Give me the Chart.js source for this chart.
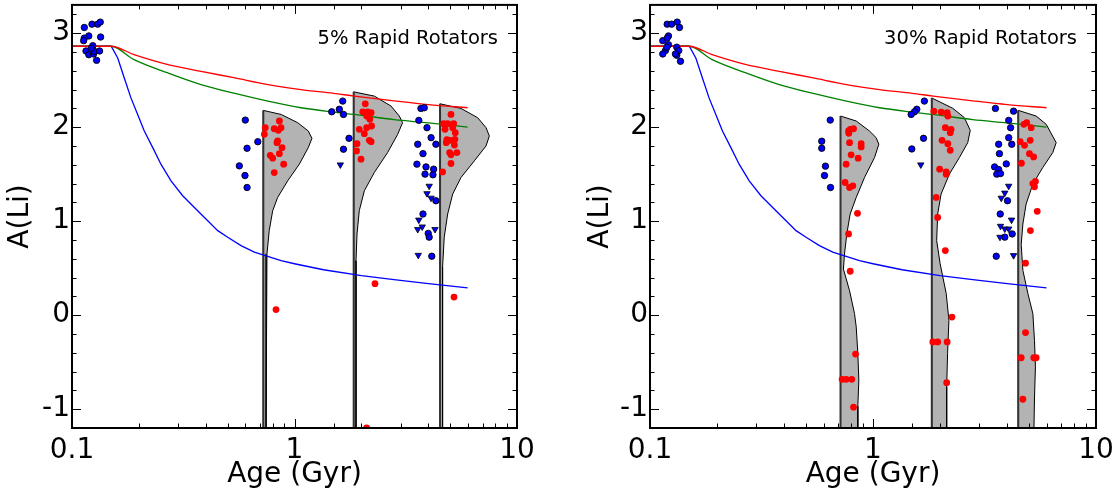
<!DOCTYPE html>
<html>
<head>
<meta charset="utf-8">
<script src="https://cdn.jsdelivr.net/npm/chart.js@4.4.0/dist/chart.umd.min.js"></script>
<style>
  html, body { margin: 0; padding: 0; background: #fff; }
  #wrap { position: relative; width: 1120px; height: 492px; }
  .panel { position: absolute; top: 0; width: 560px; height: 492px; }
</style>
</head>
<body>
<div id="wrap">
  <div class="panel" style="left:0"><canvas id="left"></canvas></div>
  <div class="panel" style="left:560px"><canvas id="right"></canvas></div>
</div>
<script>
// ---- model tracks (same in both panels) ----
const redAge = [0.1, 0.15, 0.19, 0.27, 0.38, 0.54, 0.76, 1.07, 1.5, 1.86, 2.8, 4.0, 6.0];
const redLi = [2.86, 2.86, 2.771, 2.665, 2.594, 2.523, 2.453, 2.40, 2.36, 2.33, 2.28, 2.24, 2.206];
const greenAge = [0.1, 0.15, 0.19, 0.27, 0.38, 0.54, 0.76, 1.07, 1.5, 1.86, 2.8, 4.0, 6.0];
const greenLi = [2.86, 2.86, 2.718, 2.576, 2.453, 2.358, 2.276, 2.206, 2.16, 2.135, 2.08, 2.045, 2.0];
const blueAge = [0.1, 0.15, 0.1605, 0.1718, 0.184, 0.1973, 0.2113, 0.2306, 0.251, 0.2786, 0.3144, 0.367, 0.4074, 0.4518, 0.501, 0.575, 0.66, 0.87, 1.0, 1.35, 2.0, 2.8, 4.0, 6.0];
const blueLi = [2.86, 2.86, 2.735, 2.523, 2.311, 2.135, 1.959, 1.782, 1.606, 1.429, 1.27, 1.111, 1.005, 0.899, 0.828, 0.74, 0.67, 0.58, 0.547, 0.483, 0.42, 0.377, 0.335, 0.29];

// ---- left panel: 5% rapid rotators ----
const leftObsAge = [0.1136, 0.123, 0.1305, 0.134, 0.119, 0.1136, 0.1128, 0.1345, 0.124, 0.1156, 0.119, 0.125, 0.126, 0.133, 0.129, 0.122,
  0.601, 0.612, 0.684, 0.565, 0.599, 0.612,
  1.647, 1.59, 1.47, 1.66, 1.758, 1.66,
  3.70, 3.83, 3.62, 3.94, 4.11, 4.32, 3.58, 3.78, 3.55, 3.90, 4.22, 3.86, 4.19, 4.32, 3.78, 3.99, 4.03, 4.14];
const leftObsLi = [3.06, 3.095, 3.095, 3.117, 2.97, 2.947, 2.92, 2.958, 2.866, 2.81, 2.77, 2.778, 2.806, 2.81, 2.71, 2.84,
  2.075, 1.775, 1.845, 1.588, 1.485, 1.358,
  2.277, 2.19, 2.163, 2.135, 1.881, 1.765,
  2.199, 2.206, 2.072, 1.994, 1.888, 1.818, 1.818, 1.718, 1.606, 1.577, 1.553, 1.5, 1.493, 1.217, 1.076, 0.87, 0.83, 0.627];
const leftLimAge = [1.607, 4.03, 3.94, 4.11, 3.62, 3.75, 3.58, 4.28, 3.60];
const leftLimLi = [1.60, 1.373, 1.294, 1.246, 1.013, 0.94, 0.913, 0.913, 0.638];
const leftModelAge = [0.739, 0.732, 0.811, 0.855, 0.846, 0.870, 0.84, 0.879, 0.855, 0.778, 0.798, 0.894, 0.811, 0.834, 0.826,
  2.08, 2.026, 2.13, 2.21, 2.11, 2.18, 2.22, 2.11, 1.955, 2.06, 2.17, 2.21, 1.91, 1.90, 1.99, 2.30, 2.11,
  5.05, 4.68, 4.88, 5.19, 5.14, 4.75, 5.28, 4.84, 5.01, 5.26, 4.81, 5.23, 4.98, 5.37, 5.05, 5.05, 4.63, 5.21];
const leftModelLi = [1.994, 1.924, 1.983, 2.065, 1.966, 1.994, 1.853, 1.782, 1.718, 1.70, 1.67, 1.606, 1.517, 1.835, 0.06,
  2.248, 2.163, 2.163, 2.153, 2.118, 2.083, 2.012, 1.994, 1.977, 1.93, 1.86, 1.845, 1.824, 1.747, 1.659, 0.335, -1.2,
  2.135, 2.036, 2.036, 2.036, 1.994, 1.977, 1.941, 1.867, 1.86, 1.87, 1.835, 1.81, 1.729, 1.729, 1.705, 1.613, 1.524, 0.193];
// violins: vertical base age, top A(Li), then right-hand outline from top to bottom
const leftViolinBase = [0.724, 1.845, 4.51];
const leftViolinTop = [2.178, 2.375, 2.248];
const leftV1Age = [0.87, 1.034, 1.153, 1.198, 1.153, 1.051, 0.932, 0.84, 0.798, 0.77, 0.752, 0.745, 0.745];
const leftV1Li = [2.135, 2.047, 1.959, 1.881, 1.782, 1.606, 1.429, 1.252, 1.111, 0.90, 0.652, 0.37, -1.2];
const leftV2Age = [2.284, 2.716, 2.958, 3.06, 2.91, 2.62, 2.284, 2.06, 1.955, 1.91, 1.89, 1.89];
const leftV2Li = [2.33, 2.224, 2.118, 2.047, 1.924, 1.729, 1.517, 1.323, 1.111, 0.864, 0.58, -1.2];
const leftV3Age = [5.6, 6.66, 7.26, 7.51, 7.26, 6.43, 5.6, 5.14, 4.88, 4.71, 4.63, 4.63];
const leftV3Li = [2.199, 2.10, 1.994, 1.906, 1.80, 1.641, 1.464, 1.288, 1.076, 0.83, 0.51, -1.2];

// ---- right panel: 30% rapid rotators ----
const rightObsAge = [0.1194, 0.125, 0.1324, 0.1356, 0.1141, 0.121, 0.1194, 0.121, 0.1173, 0.1141, 0.1318, 0.1346, 0.1318, 0.130, 0.137, 0.119,
  0.643, 0.589, 0.589, 0.612, 0.606, 0.645,
  1.70, 1.572, 1.535, 1.483, 1.685, 1.493,
  3.54, 4.27, 4.06, 4.14, 3.66, 4.06, 4.19, 3.69, 3.96, 3.51, 3.66, 3.59, 3.73, 4.01, 3.72, 4.21, 3.90, 3.57];
const rightObsLi = [3.095, 3.095, 3.117, 3.06, 2.92, 2.97, 2.947, 2.877, 2.814, 2.778, 2.85, 2.814, 2.764, 2.778, 2.70, 2.85,
  2.075, 1.85, 1.775, 1.585, 1.485, 1.358,
  2.277, 2.19, 2.163, 2.135, 1.881, 1.768,
  2.199, 2.17, 2.072, 1.994, 1.818, 1.888, 1.818, 1.718, 1.609, 1.577, 1.549, 1.5, 1.506, 1.217, 1.076, 0.864, 0.83, 0.627];
const rightLimAge = [1.638, 4.06, 3.90, 3.76, 4.18, 3.73, 3.90, 4.06, 3.71, 4.27];
const rightLimLi = [1.60, 1.373, 1.30, 1.246, 1.013, 0.947, 0.918, 0.918, 0.83, 0.635];
const rightModelAge = [0.777, 0.79, 0.818, 0.779, 0.785, 0.885, 0.885, 0.798, 0.858, 0.758, 0.750, 0.785, 0.812, 0.852, 0.777, 0.79, 0.835, 0.727, 0.758, 0.803, 0.818,
  1.874, 2.022, 2.15, 2.165, 2.11, 2.24, 2.22, 2.04, 2.165, 2.22, 1.99, 2.13, 2.13, 1.92, 1.95, 2.11, 2.26, 1.855, 1.95, 2.15, 2.14,
  4.75, 4.89, 5.12, 4.57, 4.78, 5.07, 5.03, 5.25, 4.63, 5.21, 5.30, 5.35, 5.45, 5.08, 4.83, 4.83, 4.62, 5.26, 5.39, 4.70];
const rightModelLi = [1.959, 1.977, 1.983, 1.934, 1.835, 1.824, 1.789, 1.705, 1.67, 1.606, 1.411, 1.358, 1.376, 1.083, 0.864, 0.467, -0.414, -0.682, -0.682, -0.682, -0.979,
  2.17, 2.16, 2.153, 2.118, 1.994, 1.977, 1.941, 1.86, 1.824, 1.754, 1.553, 1.524, 1.5, 1.252, 1.04, 0.687, -0.02, -0.284, -0.284, -0.284, -0.718,
  2.03, 2.047, 1.994, 1.845, 1.807, 1.86, 1.718, 1.683, 1.616, 1.40, 1.365, 1.422, 1.104, 0.90, 0.553, -0.185, -0.453, -0.453, -0.453, -0.894];
const rightViolinBase = [0.715, 1.835, 4.48];
const rightViolinTop = [2.118, 2.31, 2.178];
const rightV1Age = [0.841, 0.964, 1.033, 1.062, 1.016, 0.916, 0.841, 0.79, 0.763, 0.745, 0.737, 0.785, 0.826, 0.841, 0.855, 0.864, 0.855, 0.855];
const rightV1Li = [2.065, 1.959, 1.888, 1.818, 1.676, 1.464, 1.252, 1.076, 0.864, 0.65, 0.49, 0.26, 0.018, -0.125, -0.406, -0.69, -0.97, -1.2];
const rightV2Age = [2.28, 2.57, 2.73, 2.66, 2.44, 2.2, 2.02, 1.95, 1.93, 2.0, 2.13, 2.19, 2.16, 2.14, 2.14];
const rightV2Li = [2.2, 2.1, 1.966, 1.835, 1.676, 1.5, 1.288, 1.076, 0.793, 0.547, 0.23, -0.054, -0.406, -0.76, -1.2];
const rightV3Age = [5.39, 5.98, 6.63, 6.4, 5.77, 5.21, 4.86, 4.70, 4.62, 4.70, 4.95, 5.21, 5.3, 5.35, 5.3, 5.27];
const rightV3Li = [2.118, 2.03, 1.835, 1.729, 1.57, 1.394, 1.182, 0.97, 0.75, 0.476, 0.23, 0.017, -0.27, -0.55, -0.87, -1.2];

const yTickMin = -1.2;
const yTickMax = 3.3;
const ageMin = 0.1;
const ageMax = 10;

Chart.defaults.font.family = '"DejaVu Sans", sans-serif';
Chart.defaults.color = '#000';

function pts(ages, lis) {
  return ages.map((a, i) => ({ x: a, y: lis[i] }));
}

function violinShape(base, top, ages, lis) {
  return [{ x: base, y: yTickMin }, { x: base, y: top }].concat(pts(ages, lis));
}

function isDecade(v) {
  const l = Math.log10(v);
  return Math.abs(l - Math.round(l)) < 1e-9;
}

// frame, inward ticks on all four sides and the panel note
const framePlugin = {
  id: 'frame',
  afterDatasetsDraw(chart, args, opts) {
    const { ctx, chartArea: a, scales: { x, y } } = chart;
    ctx.save();
    ctx.strokeStyle = '#000';
    ctx.lineWidth = 1;
    ctx.beginPath();
    x.ticks.forEach(t => {
      const v = t.value;
      if (v <= x.min * 1.0001 || v >= x.max * 0.9999) return;
      const px = Math.round(x.getPixelForValue(v)) + 0.5;
      const len = isDecade(v) ? 9 : 4.5;
      ctx.moveTo(px, a.bottom); ctx.lineTo(px, a.bottom - len);
      ctx.moveTo(px, a.top); ctx.lineTo(px, a.top + len);
    });
    y.ticks.forEach(t => {
      const v = t.value;
      if (Math.abs(v * 5 - Math.round(v * 5)) > 1e-6) return;
      if (v <= y.min + 1e-6 || v >= y.max - 1e-6) return;
      const py = Math.round(y.getPixelForValue(v)) + 0.5;
      const len = Math.abs(v - Math.round(v)) < 1e-6 ? 9 : 4.5;
      ctx.moveTo(a.left, py); ctx.lineTo(a.left + len, py);
      ctx.moveTo(a.right, py); ctx.lineTo(a.right - len, py);
    });
    ctx.stroke();
    ctx.lineWidth = 2;
    ctx.strokeRect(a.left, a.top, a.right - a.left, a.bottom - a.top);
    ctx.fillStyle = '#000';
    ctx.font = '19.5px "DejaVu Sans"';
    ctx.textAlign = 'right';
    ctx.textBaseline = 'alphabetic';
    ctx.fillText(opts.text, a.right - 19, a.top + 39);
    ctx.restore();
  }
};

function makeChart(canvasId, p) {
  const datasets = [];

  // observed upper limits and detections, model stars on top
  datasets.push({
    label: 'Model stars', data: pts(p.modelAge, p.modelLi), order: 0, clip: 0,
    pointRadius: 3.4, pointHoverRadius: 3.4, pointBackgroundColor: '#ff0000', pointBorderWidth: 0
  });
  datasets.push({
    label: 'Upper limits', data: pts(p.limAge, p.limLi), order: 0, clip: 0,
    pointStyle: 'triangle', rotation: 180, pointRadius: 3.7,
    pointBackgroundColor: '#0000ff', pointBorderColor: '#000', pointBorderWidth: 0.8
  });
  datasets.push({
    label: 'Observed', data: pts(p.obsAge, p.obsLi), order: 0, clip: 0,
    pointRadius: 3.2, pointBackgroundColor: '#0000ff', pointBorderColor: '#000', pointBorderWidth: 0.9
  });

  // model tracks
  [[redAge, redLi, '#ff0000', 'monotone'], [greenAge, greenLi, '#008000', 'monotone'], [blueAge, blueLi, '#0000ff', 'default']].forEach(([ages, lis, color, mode]) => {
    datasets.push({
      data: pts(ages, lis), order: 1, showLine: true, pointRadius: 0,
      borderColor: color, borderWidth: 1.3, fill: false, cubicInterpolationMode: mode, tension: 0
    });
  });

  // violins: thick vertical base + filled outline
  p.violins.forEach(v => {
    datasets.push({
      data: [{ x: v.base, y: yTickMin }, { x: v.base, y: v.top }], order: 2, showLine: true,
      pointRadius: 0, borderColor: '#333', borderWidth: 2, fill: false
    });
    datasets.push({
      data: violinShape(v.base, v.top, v.ages, v.lis), order: 2, showLine: true, clip: 0,
      pointRadius: 0, borderColor: '#000', borderWidth: 1, backgroundColor: '#b3b3b3', fill: 'shape'
    });
  });

  return new Chart(document.getElementById(canvasId), {
    type: 'scatter',
    data: { datasets: datasets },
    options: {
      responsive: true,
      maintainAspectRatio: false,
      animation: false,
      events: [],
      layout: { padding: { left: p.padLeft, right: p.padRight, top: 4, bottom: 0 } },
      plugins: {
        legend: { display: false },
        tooltip: { enabled: false },
        frame: { text: p.note }
      },
      scales: {
        x: {
          type: 'logarithmic', min: ageMin, max: ageMax,
          grid: { display: false, drawTicks: false },
          border: { display: false },
          ticks: {
            autoSkip: false, maxRotation: 0, minRotation: 0, padding: 6,
            font: { size: 28 },
            callback: v => isDecade(v) ? (v < 1 ? v.toFixed(1) : String(Math.round(v))) : ''
          },
          title: { display: true, text: 'Age (Gyr)', font: { size: 28 }, padding: { top: 0, bottom: 0 } },
          afterFit: s => { s.height = 64; s.paddingLeft = 0; s.paddingRight = 0; }
        },
        y: {
          type: 'linear', min: yTickMin, max: yTickMax,
          grid: { display: false, drawTicks: false },
          border: { display: false },
          ticks: {
            stepSize: 0.2, includeBounds: false, autoSkip: false, padding: 2,
            font: { size: 28 },
            callback: v => Math.abs(v - Math.round(v)) < 1e-6 ? String(Math.round(v)) : ''
          },
          title: { display: true, text: 'A(Li)', font: { size: 28 }, padding: { top: 4, bottom: 0 } },
          afterFit: s => { s.width = p.yWidth; s.paddingTop = 0; s.paddingBottom = 0; }
        }
      }
    },
    plugins: [framePlugin]
  });
}

makeChart('left', {
  note: '5% Rapid Rotators', padLeft: 0, padRight: 43, yWidth: 72,
  obsAge: leftObsAge, obsLi: leftObsLi, limAge: leftLimAge, limLi: leftLimLi,
  modelAge: leftModelAge, modelLi: leftModelLi,
  violins: [
    { base: leftViolinBase[0], top: leftViolinTop[0], ages: leftV1Age, lis: leftV1Li },
    { base: leftViolinBase[1], top: leftViolinTop[1], ages: leftV2Age, lis: leftV2Li },
    { base: leftViolinBase[2], top: leftViolinTop[2], ages: leftV3Age, lis: leftV3Li }
  ]
});

makeChart('right', {
  note: '30% Rapid Rotators', padLeft: 20, padRight: 24, yWidth: 70,
  obsAge: rightObsAge, obsLi: rightObsLi, limAge: rightLimAge, limLi: rightLimLi,
  modelAge: rightModelAge, modelLi: rightModelLi,
  violins: [
    { base: rightViolinBase[0], top: rightViolinTop[0], ages: rightV1Age, lis: rightV1Li },
    { base: rightViolinBase[1], top: rightViolinTop[1], ages: rightV2Age, lis: rightV2Li },
    { base: rightViolinBase[2], top: rightViolinTop[2], ages: rightV3Age, lis: rightV3Li }
  ]
});
</script>
</body>
</html>
